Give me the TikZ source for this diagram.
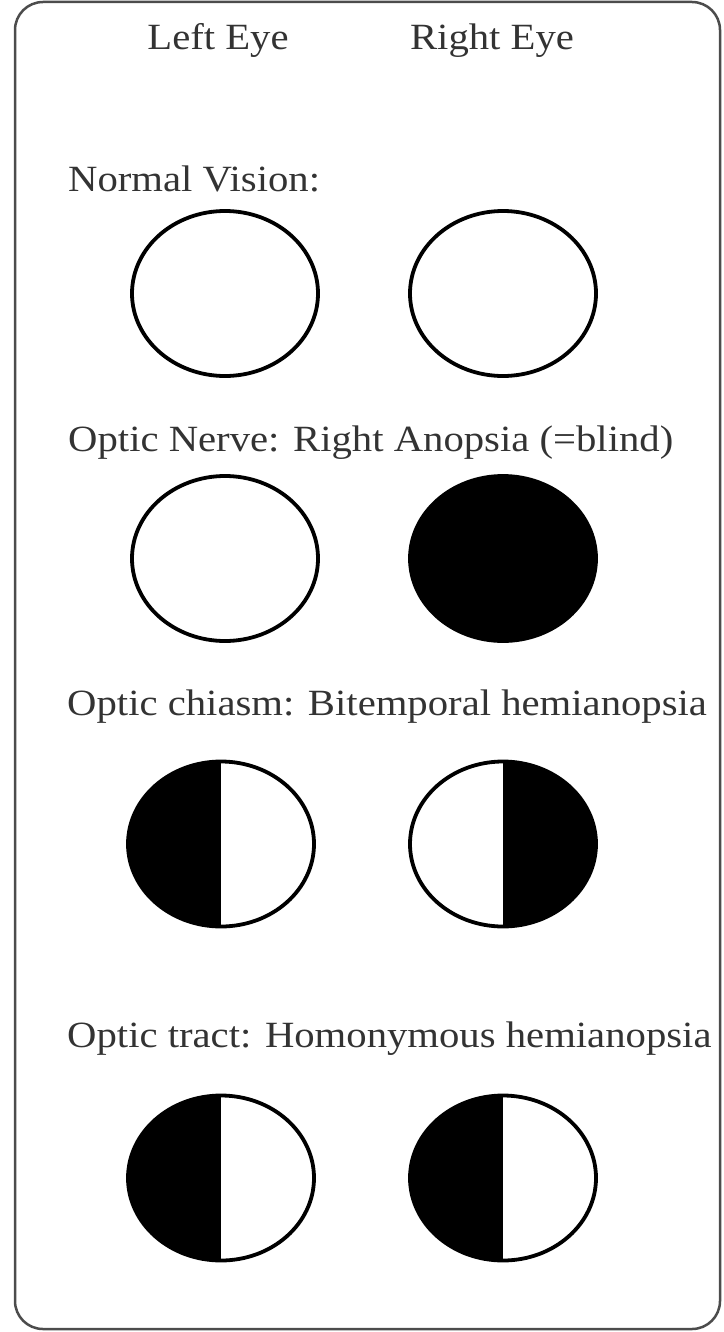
\documentclass[tikz,border=0pt]{standalone}
\usepackage{fontspec}
\setmainfont{Liberation Serif}[FakeStretch=1.1]
\usetikzlibrary{shapes.geometric}

\begin{document}
\begin{tikzpicture}[x=1pt,y=-1pt,
 lab/.style={inner sep=0pt,text=black!80,font=\fontsize{37}{40}\selectfont},
 eye/.style={draw,ellipse,line width=3.8pt,minimum width=186pt,minimum height=165pt,inner sep=0pt},
 blind/.style={eye,fill=black},
 lefthalf/.style={eye,path picture={\fill (path picture bounding box.south west) rectangle (path picture bounding box.north);}},
 righthalf/.style={eye,path picture={\fill (path picture bounding box.north) rectangle (path picture bounding box.south east);}}]
\useasboundingbox (0,0) rectangle (723,1332);
\draw[black!70,line width=2.5pt,rounded corners=28pt] (15,2) rectangle (720,1329);
\node[lab,anchor=base] (left) at (218,50) {Left Eye};
\node[lab,anchor=base] (right) at (492,50) {Right Eye};
% normal vision
\node[lab,anchor=base west] (normal) at (68,192) {Normal Vision:};
\node[eye] (normalL) at (225,293.5) {};
\node[eye] (normalR) at (503,293.5) {};
% optic nerve
\node[lab,anchor=base west] (nerve) at (68,451) {Optic Nerve: Right Anopsia (=blind)};
\node[eye] (nerveL) at (225,558.5) {};
\node[blind] (nerveR) at (503,558.5) {};
% optic chiasm
\node[lab,anchor=base west] (chiasm) at (67,715) {Optic chiasm: Bitemporal hemianopsia};
\node[lefthalf] (chiasmL) at (221,844) {};
\node[righthalf] (chiasmR) at (503,844) {};
% optic tract
\node[lab,anchor=base west] (tract) at (67,1047) {Optic tract: Homonymous hemianopsia};
\node[lefthalf] (tractL) at (221,1178) {};
\node[lefthalf] (tractR) at (503,1178) {};
\end{tikzpicture}
\end{document}
